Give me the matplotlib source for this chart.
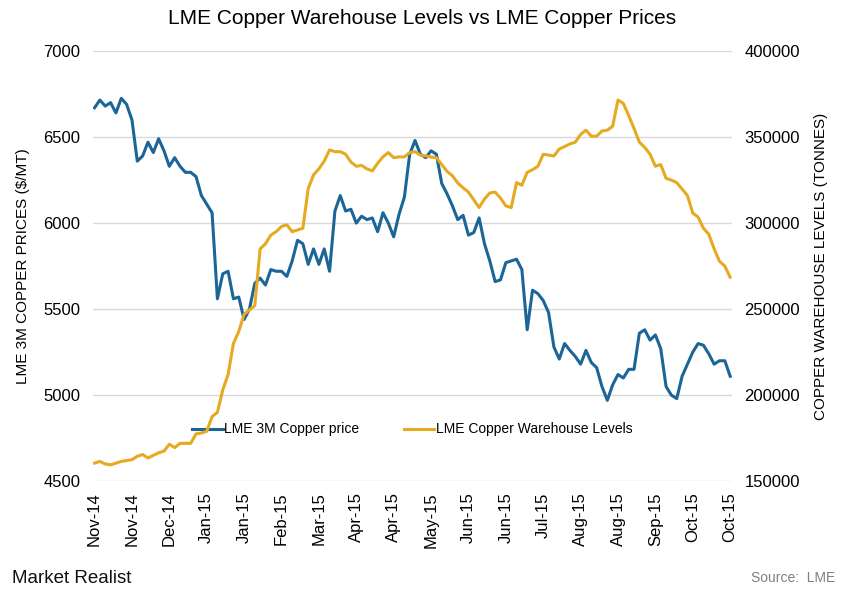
import numpy as np
import matplotlib.pyplot as plt

plt.rcParams["font.family"] = ["Liberation Sans", "DejaVu Sans"]

# LME 3M copper price ($/MT), sampled about every second trading day
copper_price = [
    6670, 6715, 6680, 6700, 6640, 6725, 6690, 6600, 6360, 6390,
    6470, 6410, 6490, 6420, 6330, 6380, 6330, 6295, 6295, 6270,
    6160, 6110, 6060, 5560, 5705, 5720, 5560, 5570, 5440, 5500,
    5650, 5680, 5640, 5730, 5720, 5720, 5690, 5780, 5900, 5880,
    5760, 5850, 5760, 5850, 5720, 6070, 6160, 6070, 6080, 6000,
    6040, 6020, 6030, 5950, 6060, 6000, 5920, 6050, 6150, 6400,
    6480, 6400, 6380, 6420, 6400, 6230, 6170, 6100, 6020, 6045,
    5930, 5945, 6030, 5880, 5780, 5660, 5670, 5770, 5780, 5790,
    5730, 5380, 5610, 5590, 5550, 5480, 5280, 5210, 5300, 5260,
    5225, 5180, 5260, 5190, 5160, 5050, 4970, 5060, 5120, 5100,
    5150, 5150, 5360, 5380, 5320, 5350, 5270, 5050, 5000, 4980,
    5110, 5180, 5250, 5300, 5290, 5240, 5180, 5200, 5200, 5110,
]

# LME copper warehouse stocks (tonnes)
warehouse = [
    160500, 161500, 160000, 159500, 160500, 161500, 162000, 162500, 164500, 165500,
    163500, 165000, 166500, 167500, 171500, 169500, 172000, 172000, 172000, 177500,
    178000, 179000, 187500, 190000, 203000, 212000, 230000, 237000, 247000, 249500,
    252000, 285000, 288000, 293000, 295000, 298000, 299000, 295000, 296000, 297000,
    320000, 328000, 331500, 336000, 342500, 341500, 341500, 340000, 335500, 333000,
    333500, 331500, 330300, 334800, 338500, 341000, 338000, 338500, 338400, 341000,
    341500, 339500, 339000, 338400, 338000, 334000, 330000, 327500, 323300, 320500,
    318000, 313500, 309000, 314000, 317500, 318000, 314500, 310000, 309000, 323500,
    322000, 329500, 331000, 333000, 340000, 339500, 339000, 343000, 344500, 346000,
    347000, 351500, 354000, 350500, 350500, 353500, 354000, 356300, 371500, 369500,
    362500, 355000, 347000, 344000, 340000, 333000, 334000, 326000, 325000, 323500,
    319800, 316000, 305800, 303500, 297000, 293500, 285000, 277800, 275000, 268500,
]

tick_labels = [
    "Nov-14", "Nov-14", "Dec-14", "Jan-15", "Jan-15", "Feb-15", "Mar-15", "Apr-15", "Apr-15",
    "May-15", "Jun-15", "Jun-15", "Jul-15", "Aug-15", "Aug-15", "Sep-15", "Oct-15", "Oct-15",
]

BLUE = "#1c6597"
GOLD = "#e5aa22"
GRID = "#d9d9d9"

x = np.arange(len(copper_price))

fig = plt.figure(figsize=(8.45, 6.0), dpi=100)
ax = fig.add_axes([0.110, 0.198, 0.756, 0.717])
ax2 = ax.twinx()

l1, = ax.plot(x, copper_price, color=BLUE, lw=2.2, label="LME 3M Copper price", zorder=3)
l2, = ax2.plot(x, warehouse, color=GOLD, lw=2.2, label="LME Copper Warehouse Levels", zorder=2)

ax.set_ylim(4500, 7000)
ax.set_yticks(np.arange(4500, 7001, 500))
ax2.set_ylim(150000, 400000)
ax2.set_yticks(np.arange(150000, 400001, 50000))
ax.set_xlim(-0.3, len(x) - 0.7)
ax.set_xticks(x[::7])
ax.set_xticklabels(tick_labels, rotation=90, fontsize=12)

ax.grid(axis="y", color=GRID, lw=1.0)
ax.set_axisbelow(True)
for a in (ax, ax2):
    for s in a.spines.values():
        s.set_visible(False)
    a.tick_params(length=0, labelsize=12)
ax.tick_params(axis="y", pad=9)
ax2.tick_params(axis="y", pad=9)
ax.tick_params(axis="x", pad=8)

ax.set_ylabel("LME 3M COPPER PRICES ($/MT)", fontsize=11, labelpad=10)
ax2.set_ylabel("COPPER WAREHOUSE LEVELS (TONNES)", fontsize=11, labelpad=10)

ax.legend(handles=[l1, l2], loc="lower center", bbox_to_anchor=(0.5, 0.075), ncol=2,
          frameon=False, fontsize=10, handlelength=2.2, handletextpad=0.1,
          columnspacing=3.2)

fig.suptitle("LME Copper Warehouse Levels vs LME Copper Prices", fontsize=15, y=0.985)
fig.text(0.014, 0.028, "Market Realist", fontsize=13.5, color="#111111")
fig.text(0.988, 0.03, "Source:  LME", fontsize=10, color="#808080", ha="right")

fig.savefig("out.png", dpi=100)
